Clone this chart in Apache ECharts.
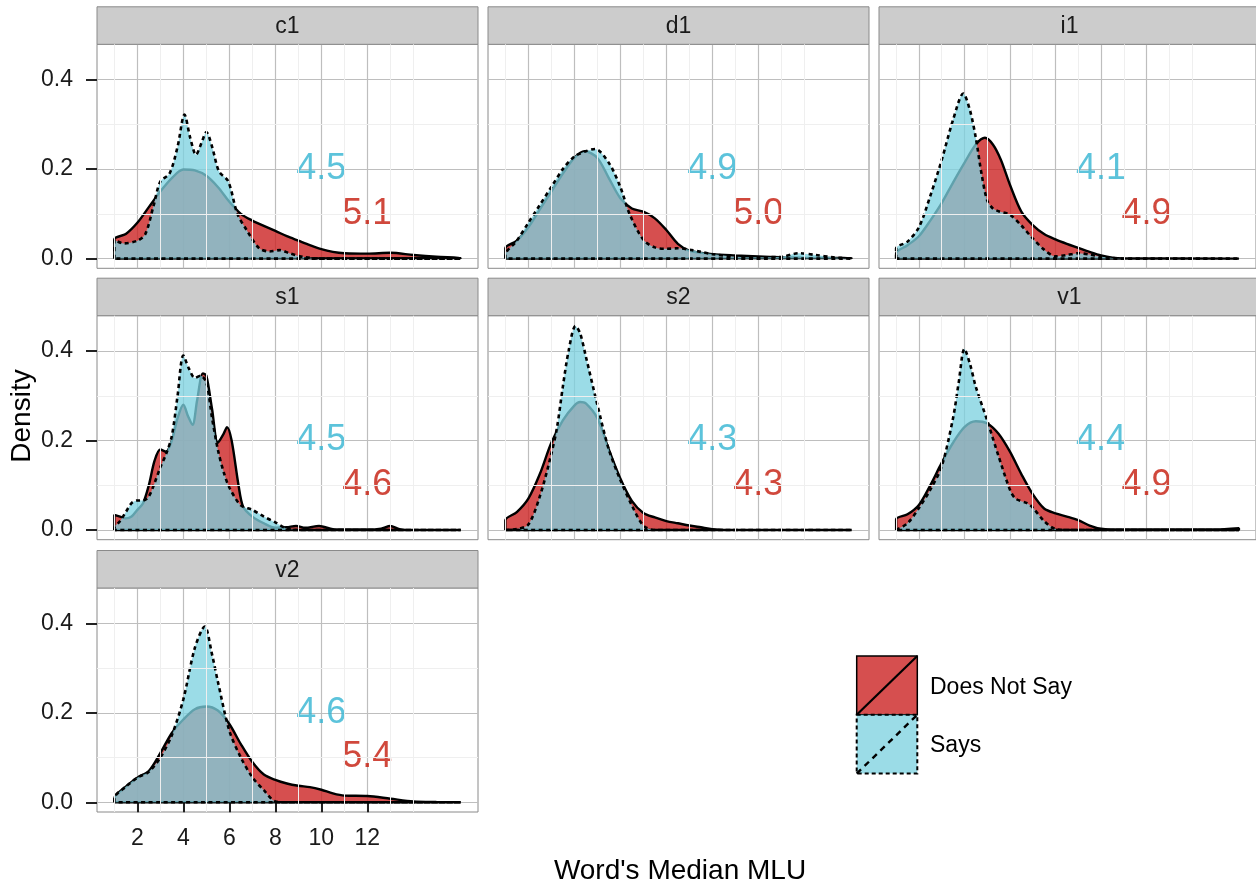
<!DOCTYPE html>
<html>
<head>
<meta charset="utf-8">
<script src="https://cdn.jsdelivr.net/npm/echarts@6/dist/echarts.min.js"></script>
<style>
  html, body { margin: 0; padding: 0; background: #fff; }
  #main { width: 1256px; height: 887px; }
</style>
</head>
<body>
<div id="main"></div>
<script>
// facets and the two medians printed in each panel
const facets = ['c1', 'd1', 'i1', 's1', 's2', 'v1', 'v2'];
const saysMedian = [4.5, 4.9, 4.1, 4.5, 4.3, 4.4, 4.6];
const notSayMedian = [5.1, 5.0, 4.9, 4.6, 4.3, 4.9, 5.4];

const xTicks = [2, 4, 6, 8, 10, 12];
const xMinor = [1, 3, 5, 7, 9, 11, 13, 14];
const yTicks = [0, 0.2, 0.4];
const yMinor = [0.1, 0.3];

// density curves, [MLU, density]
const c1NotSay = [[1,0.043],[1.5,0.055],[2,0.08],[2.5,0.115],[3,0.15],[3.5,0.18],[4,0.199],[4.5,0.197],[5,0.185],[5.5,0.16],[6,0.127],[6.5,0.1],[7,0.085],[7.5,0.073],[8,0.062],[8.5,0.05],[9,0.04],[9.5,0.03],[10,0.021],[10.5,0.015],[11,0.012],[12,0.011],[13,0.013],[14,0.008],[15,0.004],[16.06,0.001]];
const c1Says = [[1,0.042],[1.4,0.034],[2,0.04],[2.35,0.055],[2.7,0.117],[3,0.172],[3.4,0.19],[3.75,0.25],[4.05,0.322],[4.3,0.27],[4.55,0.232],[4.8,0.26],[5,0.283],[5.25,0.25],[5.55,0.195],[5.95,0.173],[6.35,0.1],[6.75,0.064],[7.3,0.023],[7.75,0.016],[8.2,0.019],[8.6,0.012],[9.2,0.004],[10,0],[16.06,0]];

const d1NotSay = [[1,0.023],[1.5,0.04],[2,0.07],[2.5,0.11],[3,0.15],[3.5,0.19],[4,0.225],[4.45,0.24],[5,0.225],[5.5,0.18],[6,0.135],[6.5,0.112],[7,0.105],[7.5,0.09],[8,0.064],[8.5,0.033],[9,0.018],[10,0.01],[11,0.007],[12,0.005],[13,0.003],[14,0.002],[16.06,0.001]];
const d1Says = [[1,0.008],[1.5,0.04],[2,0.08],[2.5,0.12],[3,0.16],[3.5,0.2],[4,0.228],[4.5,0.24],[4.9,0.245],[5.5,0.214],[6,0.16],[6.4,0.1],[7,0.042],[7.5,0.025],[8,0.022],[8.5,0.023],[9,0.02],[9.5,0.015],[10,0.01],[11,0.004],[12,0.003],[13,0.004],[13.75,0.012],[14.5,0.008],[15.25,0.003],[16.06,0]];

const i1NotSay = [[1,0.012],[1.5,0.03],[2,0.05],[2.5,0.085],[3,0.124],[3.5,0.17],[4,0.214],[4.5,0.255],[4.9,0.27],[5.25,0.255],[5.6,0.221],[6,0.165],[6.5,0.105],[7,0.075],[7.5,0.055],[8,0.043],[8.5,0.033],[9,0.024],[9.5,0.015],[10,0.007],[10.5,0.002],[11,0.0005],[16.06,0]];
const i1Says = [[1,0.023],[1.5,0.038],[2,0.07],[2.5,0.14],[3,0.22],[3.5,0.31],[3.95,0.369],[4.25,0.33],[4.5,0.27],[4.75,0.19],[5,0.13],[5.25,0.112],[5.5,0.106],[6,0.098],[6.5,0.074],[7,0.045],[7.5,0.02],[8,0.005],[8.5,0.008],[9,0.012],[9.5,0.009],[10,0.004],[11,0],[16.06,0]];

const s1NotSay = [[1,0.034],[1.25,0.03],[1.5,0.026],[1.75,0.03],[2,0.045],[2.25,0.06],[2.5,0.1],[2.75,0.155],[3,0.18],[3.25,0.175],[3.5,0.2],[3.75,0.25],[4,0.28],[4.2,0.255],[4.4,0.235],[4.6,0.29],[4.85,0.35],[5,0.345],[5.25,0.27],[5.5,0.195],[5.75,0.215],[5.9,0.23],[6.1,0.2],[6.4,0.1],[6.6,0.052],[7,0.03],[7.5,0.015],[8,0.005],[8.5,0.006],[8.9,0.009],[9.3,0.005],[9.9,0.009],[10.5,0.002],[11,0.001],[12,0.001],[12.6,0.003],[13,0.009],[13.4,0.002],[14,0],[16.06,0]];
const s1Says = [[1,0.004],[1.25,0.02],[1.5,0.04],[1.75,0.06],[2,0.066],[2.25,0.066],[2.5,0.075],[2.75,0.105],[3,0.14],[3.25,0.17],[3.5,0.21],[3.75,0.3],[4,0.39],[4.25,0.36],[4.5,0.34],[4.75,0.345],[5,0.33],[5.25,0.25],[5.5,0.18],[5.75,0.13],[6,0.095],[6.5,0.055],[7,0.045],[7.5,0.03],[8,0.017],[8.5,0.003],[9,0],[16.06,0]];

const s2NotSay = [[1,0.022],[1.5,0.04],[2,0.07],[2.5,0.125],[3,0.195],[3.5,0.245],[4,0.278],[4.25,0.286],[4.5,0.283],[5,0.25],[5.5,0.18],[6,0.115],[6.5,0.065],[7,0.038],[7.5,0.028],[8,0.02],[8.5,0.015],[9,0.01],[9.5,0.006],[10,0.002],[11,0],[16.06,0]];
const s2Says = [[1,0],[1.5,0.002],[2,0.012],[2.5,0.075],[3,0.17],[3.25,0.23],[3.5,0.32],[3.75,0.4],[4.05,0.456],[4.25,0.44],[4.5,0.388],[5,0.28],[5.5,0.18],[6,0.112],[6.5,0.055],[7,0.01],[7.5,0],[16.06,0]];

const v1NotSay = [[1,0.024],[1.5,0.035],[2,0.056],[2.5,0.1],[3,0.15],[3.5,0.195],[4,0.23],[4.5,0.243],[5,0.238],[5.5,0.215],[6,0.175],[6.5,0.125],[7,0.08],[7.5,0.048],[8,0.037],[8.5,0.03],[9,0.022],[9.5,0.01],[10,0.003],[11,0.001],[15,0.001],[16.06,0.004]];
const v1Says = [[1,0],[1.5,0.015],[2,0.049],[2.5,0.09],[3,0.142],[3.5,0.25],[3.75,0.33],[4,0.405],[4.25,0.37],[4.5,0.32],[5,0.245],[5.5,0.165],[6,0.09],[6.25,0.07],[6.75,0.06],[7,0.05],[7.5,0.02],[8,0.002],[8.5,0],[16.06,0]];

const v2NotSay = [[1,0.009],[1.5,0.035],[2,0.055],[2.5,0.07],[3,0.11],[3.5,0.155],[4,0.185],[4.5,0.208],[5,0.214],[5.5,0.205],[6,0.175],[6.5,0.13],[7,0.09],[7.5,0.062],[8,0.05],[8.5,0.042],[9,0.037],[9.5,0.034],[10,0.028],[10.5,0.02],[11,0.015],[12,0.014],[13,0.008],[14,0.002],[15,0.0005],[16.06,0]];
const v2Says = [[1,0.009],[1.5,0.035],[2,0.055],[2.5,0.068],[3,0.1],[3.5,0.15],[4,0.23],[4.5,0.345],[4.93,0.393],[5.25,0.33],[5.5,0.27],[6,0.16],[6.5,0.1],[7,0.056],[7.5,0.027],[8,0.002],[8.5,0],[16.06,0]];

const notSayCurves = [c1NotSay, d1NotSay, i1NotSay, s1NotSay, s2NotSay, v1NotSay, v2NotSay];
const saysCurves = [c1Says, d1Says, i1Says, s1Says, s2Says, v1Says, v2Says];

// where the median labels sit, in data units
const saysLabelAt = [10, 0.2];
const notSayLabelAt = [12, 0.1];

const FONT = '"Liberation Sans", Arial, Helvetica, sans-serif';
const redFill = 'rgba(204,35,35,0.8)';
const blueFill = 'rgba(125,209,224,0.77)';
const redText = '#c41a0b';
const blueText = '#33b4d2';

const xMin = 0.247, xMax = 16.81;
const yMin = -0.0217, yMax = 0.479;

const colLeft = [97, 488, 879];
const rowTop = [44.3, 315.7, 588];
const panelW = 381, panelH = 224, stripH = 37.5;

// close the curve like a polygon: up the first edge, along the curve, back along 0
function outline(pts) {
  const first = pts[0][0], last = pts[pts.length - 1][0];
  return [[first, 0]].concat(pts, [[last, 0], [first, 0]]);
}

const grids = [], xAxes = [], yAxes = [], series = [], graphics = [];

facets.forEach(function (name, i) {
  const col = i % 3, row = Math.floor(i / 3);
  const left = colLeft[col], top = rowTop[row];
  const showY = col === 0;
  const showX = i === facets.length - 1;

  grids.push({
    left: left, top: top, width: panelW, height: panelH,
    show: true, backgroundColor: '#fff', borderColor: '#8a8a8a', borderWidth: 1
  });

  xAxes.push({
    gridIndex: i, type: 'value', min: xMin, max: xMax,
    axisLine: { show: false },
    axisTick: { show: showX, customValues: xTicks, length: 10, lineStyle: { color: '#222', width: 2 } },
    axisLabel: { show: showX, customValues: xTicks, margin: 15, fontSize: 23, color: '#1a1a1a', fontFamily: FONT },
    splitLine: { show: true, lineStyle: { color: '#bebebe', width: 1.2 } }
  });

  yAxes.push({
    gridIndex: i, type: 'value', min: yMin, max: yMax,
    axisLine: { show: false },
    axisTick: { show: showY, customValues: yTicks, length: 11, lineStyle: { color: '#222', width: 2 } },
    axisLabel: {
      show: showY, customValues: yTicks, margin: 24, fontSize: 23, color: '#1a1a1a', fontFamily: FONT,
      formatter: function (v) { return v.toFixed(1); }
    },
    splitLine: { show: true, lineStyle: { color: '#bebebe', width: 1.2 } }
  });

  // minor grid lines
  series.push({
    type: 'line', xAxisIndex: i, yAxisIndex: i, data: [], z: 1, silent: true,
    markLine: {
      silent: true, symbol: 'none', label: { show: false },
      lineStyle: { color: '#efefef', width: 1, type: 'solid' },
      data: xMinor.map(function (v) { return { xAxis: v }; })
        .concat(yMinor.map(function (v) { return { yAxis: v }; }))
    }
  });

  series.push({
    name: 'Does Not Say', type: 'line', xAxisIndex: i, yAxisIndex: i, z: 2,
    data: outline(notSayCurves[i]), smooth: 0.3, showSymbol: false,
    lineStyle: { color: '#000', width: 2.4 },
    areaStyle: { color: redFill, opacity: 1 }
  });

  series.push({
    name: 'Says', type: 'line', xAxisIndex: i, yAxisIndex: i, z: 3,
    data: outline(saysCurves[i]), smooth: 0.3, showSymbol: false,
    lineStyle: { color: '#000', width: 2.6, type: [4, 3.5] },
    areaStyle: { color: blueFill, opacity: 1 }
  });

  [[saysLabelAt, saysMedian[i], blueText], [notSayLabelAt, notSayMedian[i], redText]].forEach(function (lab) {
    series.push({
      type: 'scatter', xAxisIndex: i, yAxisIndex: i, z: 4, silent: true,
      symbolSize: 1, itemStyle: { color: 'rgba(0,0,0,0)' },
      data: [[lab[0][0], lab[0][1], lab[1]]],
      label: {
        show: true, position: 'inside', fontSize: 36, fontFamily: FONT, color: lab[2],
        textBorderWidth: 0, textBorderColor: 'transparent',
        formatter: function (p) { return p.value[2].toFixed(1); }
      }
    });
  });

  // facet strip
  graphics.push({
    type: 'rect', shape: { x: left, y: top - stripH, width: panelW, height: stripH },
    style: { fill: '#cccccc', stroke: '#8a8a8a', lineWidth: 1 }, z: 5
  });
  graphics.push({
    type: 'text', x: left + panelW / 2, y: top - stripH / 2 + 1, z: 6,
    style: { text: name, fontSize: 23, fontFamily: FONT, fill: '#1a1a1a', align: 'center', verticalAlign: 'middle' }
  });
});

// axis titles
graphics.push({
  type: 'text', x: 680, y: 871,
  style: { text: "Word's Median MLU", fontSize: 28, fontFamily: FONT, fill: '#000', align: 'center', verticalAlign: 'middle' }
});
graphics.push({
  type: 'text', x: 22, y: 416, rotation: Math.PI / 2,
  style: { text: 'Density', fontSize: 28, fontFamily: FONT, fill: '#000', align: 'center', verticalAlign: 'middle' }
});

// legend
const keyX = 856.7, keyW = 60.6, keyTop = 656, keyH = 58.8;
graphics.push({ type: 'rect', shape: { x: keyX, y: keyTop, width: keyW, height: keyH },
  style: { fill: redFill, stroke: '#000', lineWidth: 1.5 } });
graphics.push({ type: 'line', shape: { x1: keyX, y1: keyTop + keyH, x2: keyX + keyW, y2: keyTop },
  style: { stroke: '#000', lineWidth: 2.2 } });
graphics.push({ type: 'rect', shape: { x: keyX, y: keyTop + keyH, width: keyW, height: keyH },
  style: { fill: blueFill, stroke: '#000', lineWidth: 2, lineDash: [4, 3] } });
graphics.push({ type: 'line', shape: { x1: keyX, y1: keyTop + 2 * keyH, x2: keyX + keyW, y2: keyTop + keyH },
  style: { stroke: '#000', lineWidth: 2.4, lineDash: [6, 5] } });
graphics.push({ type: 'text', x: 930, y: keyTop + keyH / 2 + 2,
  style: { text: 'Does Not Say', fontSize: 23, fontFamily: FONT, fill: '#000', verticalAlign: 'middle' } });
graphics.push({ type: 'text', x: 930, y: keyTop + keyH * 1.5 + 1,
  style: { text: 'Says', fontSize: 23, fontFamily: FONT, fill: '#000', verticalAlign: 'middle' } });

const chart = echarts.init(document.getElementById('main'));
chart.setOption({
  animation: false,
  backgroundColor: '#fff',
  grid: grids,
  xAxis: xAxes,
  yAxis: yAxes,
  series: series,
  graphic: { elements: graphics }
});
</script>
</body>
</html>
